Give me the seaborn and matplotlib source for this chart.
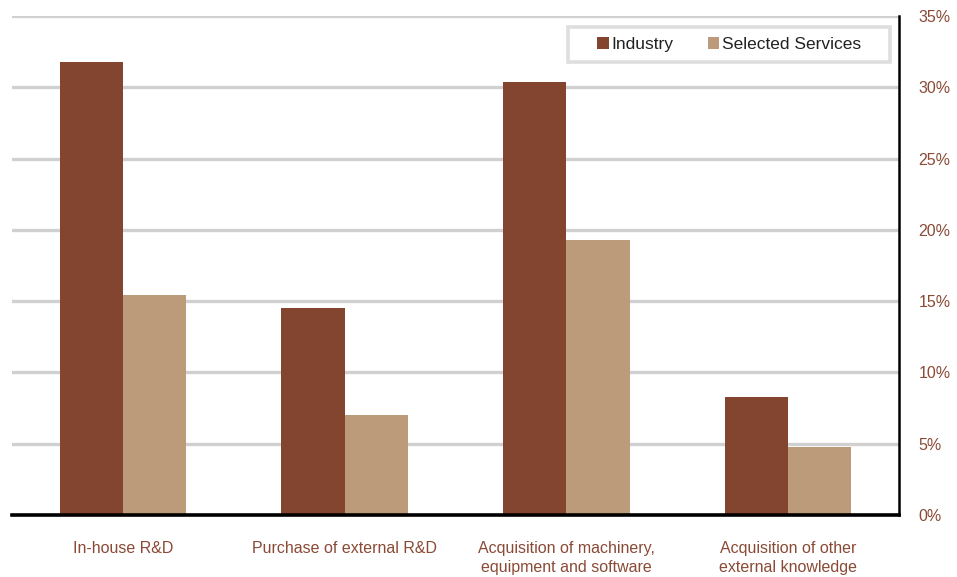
import matplotlib
matplotlib.use("Agg")
import matplotlib.pyplot as plt
from matplotlib.patches import Rectangle
import seaborn as sns
import pandas as pd

categories = [
    "In-house R&D",
    "Purchase of external R&D",
    "Acquisition of machinery,\nequipment and software",
    "Acquisition of other\nexternal knowledge",
]
industry = [31.8, 14.5, 30.4, 8.3]
services = [15.4, 7.0, 19.3, 4.8]
series_names = ["Industry", "Selected Services"]
y_ticks = [0, 5, 10, 15, 20, 25, 30, 35]

df = pd.DataFrame({
    "category": categories * 2,
    "value": industry + services,
    "series": [series_names[0]] * 4 + [series_names[1]] * 4,
})

sns.set_theme(style="white")
plt.rcParams["font.family"] = ["Liberation Sans", "DejaVu Sans"]

label_color = "#8a4a36"
palette = {"Industry": "#834530", "Selected Services": "#bc9b7b"}

fig = plt.figure(figsize=(9.57, 5.77), dpi=100)
ax = fig.add_axes([0.0125, 0.1075, 0.927, 0.8645])

sns.barplot(data=df, x="category", y="value", hue="series", palette=palette,
            width=0.57, saturation=1, linewidth=0, ax=ax, zorder=3)

ax.set_ylim(0, 35)
ax.set_xlim(-0.5, 3.5)
ax.set_yticks(y_ticks)
ax.set_yticklabels([f"{t}%" for t in y_ticks])
ax.yaxis.tick_right()
ax.tick_params(axis="y", length=0, pad=14, labelsize=11.5, labelcolor=label_color)
ax.tick_params(axis="x", length=0, pad=19, labelsize=11.5, labelcolor=label_color)
for lbl in ax.get_xticklabels():
    lbl.set_linespacing(1.3)
ax.set_xlabel("")
ax.set_ylabel("")

ax.grid(axis="y", color="#d0d0d0", linewidth=2.4, zorder=0)
ax.set_axisbelow(True)

for side in ["left", "top"]:
    ax.spines[side].set_visible(False)
ax.spines["bottom"].set_color("black")
ax.spines["bottom"].set_linewidth(2.6)
ax.spines["right"].set_color("black")
ax.spines["right"].set_linewidth(1.8)
ax.spines["bottom"].set_zorder(5)

# legend box drawn separately so it can be wider than its contents
box = Rectangle((0.627, 0.908), 0.363, 0.070, transform=ax.transAxes,
                facecolor="white", edgecolor="#dedede", linewidth=2.6, zorder=6)
ax.add_patch(box)

leg = ax.legend(loc="center", bbox_to_anchor=(0.8085, 0.943), ncol=2,
                frameon=False, fontsize=12.5,
                handlelength=0.65, handleheight=0.65, handletextpad=0.15,
                columnspacing=2.0, borderpad=0.2)
leg.set_zorder(7)
for t in leg.get_texts():
    t.set_color("#222222")

fig.savefig("out.png", dpi=100)
